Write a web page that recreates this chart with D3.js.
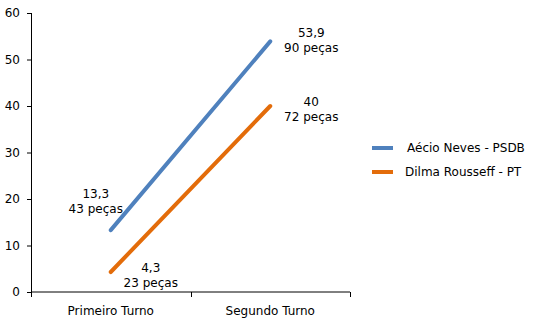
<!DOCTYPE html>
<html>
<head>
<meta charset="utf-8">
<script src="https://cdn.jsdelivr.net/npm/d3@7"></script>
<style>
  body { margin: 0; background: #fff; }
  text { font-family: "DejaVu Sans", Verdana, sans-serif; font-size: 12px; fill: #000; }
</style>
</head>
<body>
<div id="chart"></div>
<script>
var categories = ["Primeiro Turno", "Segundo Turno"];
var seriesNames = ["Aécio Neves - PSDB", "Dilma Rousseff - PT"];
var aecioValues = [13.3, 53.9];
var dilmaValues = [4.3, 40];
var aecioPieces = [43, 90];
var dilmaPieces = [23, 72];
var yTicks = [0, 10, 20, 30, 40, 50, 60];
var colors = ["#4f81bd", "#e36c0a"];

// label offsets relative to point (dx, dy of first line)
var labelOffsets = [
  [[-15, -32], [41, -4]],
  [[40, 0], [41, 0]]
];

var margin = {top: 13, left: 31},
    width = 319,
    height = 279;

var svg = d3.select("#chart").append("svg")
    .attr("width", 539)
    .attr("height", 321)
  .append("g")
    .attr("transform", "translate(" + margin.left + "," + margin.top + ")");

var xScale = d3.scaleBand().domain(categories).range([0, width]);
var yScale = d3.scaleLinear().domain([0, 60]).range([height, 0]);

var xAxis = svg.append("g")
    .attr("transform", "translate(0," + height + ")");
xAxis.append("line").attr("x1", 0).attr("x2", width).attr("stroke", "#000");
xAxis.selectAll(".tick")
    .data(d3.range(categories.length + 1))
  .enter().append("line")
    .attr("x1", function(d) { return Math.round(d * xScale.bandwidth()) + 0.5; })
    .attr("x2", function(d) { return Math.round(d * xScale.bandwidth()) + 0.5; })
    .attr("y1", 0).attr("y2", 5)
    .attr("stroke", "#000");
xAxis.selectAll("text")
    .data(categories)
  .enter().append("text")
    .attr("x", function(d) { return xScale(d) + xScale.bandwidth() / 2; })
    .attr("y", 23)
    .attr("text-anchor", "middle")
    .text(function(d) { return d; });

var yAxis = svg.append("g")
    .call(d3.axisLeft(yScale).tickValues(yTicks).tickSize(4).tickPadding(7));
yAxis.select(".domain").attr("d", "M0.5,0V" + (height + 0.5));
yAxis.selectAll("line").attr("stroke", "#000");
yAxis.selectAll("text").style("font-family", "\"DejaVu Sans\", Verdana, sans-serif").style("font-size", "12px");

var series = [
  {name: seriesNames[0], values: aecioValues, pieces: aecioPieces, color: colors[0], off: labelOffsets[0]},
  {name: seriesNames[1], values: dilmaValues, pieces: dilmaPieces, color: colors[1], off: labelOffsets[1]}
];

var line = d3.line()
    .x(function(d, i) { return xScale(categories[i]) + xScale.bandwidth() / 2; })
    .y(function(d) { return yScale(d); });

series.forEach(function(s) {
  svg.append("path")
      .datum(s.values)
      .attr("d", line)
      .attr("fill", "none")
      .attr("stroke", s.color)
      .attr("stroke-width", 4)
      .attr("stroke-linecap", "round");

  s.values.forEach(function(v, i) {
    var px = xScale(categories[i]) + xScale.bandwidth() / 2,
        py = yScale(v);
    var t = svg.append("text")
        .attr("text-anchor", "middle")
        .attr("x", px + s.off[i][0])
        .attr("y", py + s.off[i][1]);
    t.append("tspan")
        .attr("x", px + s.off[i][0])
        .text(String(v).replace(".", ","));
    t.append("tspan")
        .attr("x", px + s.off[i][0])
        .attr("dy", 15)
        .text(s.pieces[i] + " peças");
  });
});

var legend = svg.selectAll(".legend")
    .data(series)
  .enter().append("g")
    .attr("class", "legend")
    .attr("transform", function(d, i) { return "translate(341," + (135 + i * 24) + ")"; });

legend.append("line")
    .attr("x1", 0).attr("x2", 21)
    .attr("stroke", function(d) { return d.color; })
    .attr("stroke-width", 4);

legend.append("text")
    .attr("x", function(d, i) { return i === 0 ? 35 : 33; })
    .attr("dy", ".35em")
    .text(function(d) { return d.name; });
</script>
</body>
</html>
